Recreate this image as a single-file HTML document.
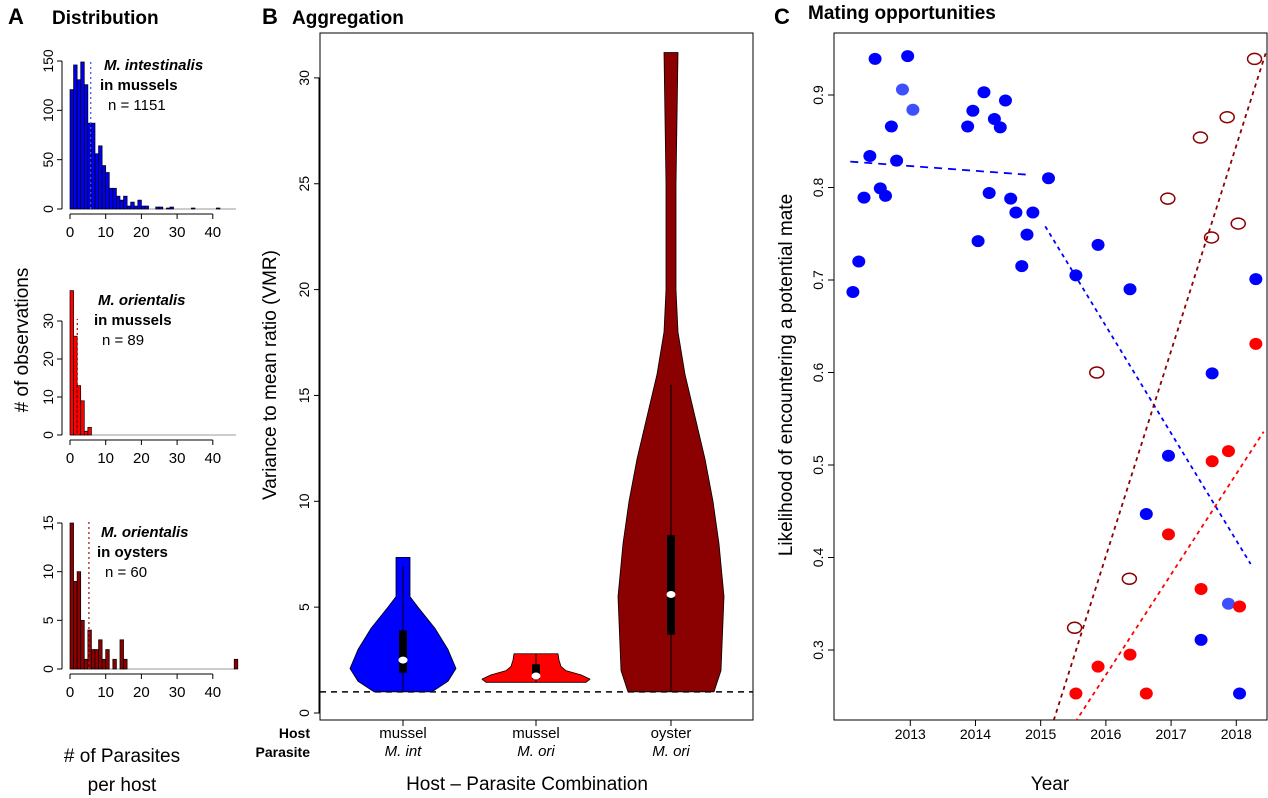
<!DOCTYPE html>
<html><head><meta charset="utf-8"><style>
html,body{margin:0;padding:0;background:#fff;width:1268px;height:798px;overflow:hidden}
svg{display:block;font-family:"Liberation Sans",Arial,sans-serif}
</style></head><body>
<svg id="fig" width="1268" height="798" viewBox="0 0 1268 798">
<text x="8" y="24" font-size="22" font-weight="bold">A</text>
<text x="52" y="24" font-size="19" font-weight="bold">Distribution</text>
<text x="262" y="24" font-size="22" font-weight="bold">B</text>
<text x="292" y="24" font-size="19" font-weight="bold">Aggregation</text>
<text x="774" y="24" font-size="22" font-weight="bold">C</text>
<text x="808" y="19" font-size="19" font-weight="bold">Mating opportunities</text>
<text transform="translate(28,340) rotate(-90)" text-anchor="middle" font-size="19"># of observations</text>
<text x="122" y="762" text-anchor="middle" font-size="19"># of Parasites</text>
<text x="122" y="791" text-anchor="middle" font-size="19">per host</text>
<text transform="translate(276,375) rotate(-90)" text-anchor="middle" font-size="19">Variance to mean ratio (VMR)</text>
<text x="527" y="790" text-anchor="middle" font-size="19">Host – Parasite Combination</text>
<text x="310" y="738" text-anchor="end" font-size="14" font-weight="bold">Host</text>
<text x="310" y="757" text-anchor="end" font-size="14" font-weight="bold">Parasite</text>
<text transform="translate(792,375) rotate(-90)" text-anchor="middle" font-size="19">Likelihood of encountering a potential mate</text>
<text x="1050" y="790" text-anchor="middle" font-size="19">Year</text>
<g id="ga"></g><g id="gb"></g><g id="gc"></g>
</svg>
<script>
// ---------- Panel A data ----------
const histA1 = [121,146,131,149,126,87,87,56,64,44,37,21,21,13,9,13,3,7,3,9,3,3,0,0,2,2,0,1,2,0,0,0,0,0,1,0,0,0,0,0,0,1];
const histA2 = [38,26,13,9,1,2];
const histA3 = [15,9,10,5,1,4,2,2,3,1,2,0,1,0,3,1,0,0,0,0,0,0,0,0,0,0,0,0,0,0,0,0,0,0,0,0,0,0,0,0,0,0,0,0,0,0,1];
const meansA = [5.8, 2.05, 5.3];
const yTicksA1 = [0,50,100,150];
const yTicksA2 = [0,10,20,30];
const yTicksA3 = [0,5,10,15];
const xTicksA = [0,10,20,30,40];
// ---------- Panel B data ----------
const violinNames = ["mussel","mussel","oyster"];
const violinParasites = ["M. int","M. ori","M. ori"];
const violinBlueV = [1,1.5,2.1,3,4,5,5.5,6,7.35];
const violinBlueW = [29,45,53,45,32,15,7,7,7];
const violinRedV = [1.45,1.6,1.8,2.0,2.2,2.5,2.8];
const violinRedW = [50,54,45,30,25,23,22];
const violinDarkV = [1,2,5.5,8,10,12,14,16,18,20,25,31.2];
const violinDarkW = [43,50,53,48,42,34,24,14,7,5,5,7];
const boxQ1 = [1.9,1.6,3.7];
const boxQ3 = [3.9,2.3,8.4];
const boxMed = [2.5,1.75,5.6];
const whiskLo = [1,1.45,1];
const whiskHi = [6.9,2.8,15.5];
const yTicksB = [0,5,10,15,20,25,30];
// ---------- Panel C data ----------
const blueYears = [2012.12,2012.21,2012.29,2012.38,2012.46,2012.54,2012.62,2012.71,2012.79,2012.96,2013.88,2013.96,2014.04,2014.13,2014.21,2014.29,2014.38,2014.46,2014.54,2014.62,2014.71,2014.79,2014.88,2015.12,2015.54,2015.88,2016.37,2016.62,2016.96,2017.46,2017.63,2018.05,2018.30];
const blueVals = [0.687,0.720,0.789,0.834,0.939,0.799,0.791,0.866,0.829,0.942,0.866,0.883,0.742,0.903,0.794,0.874,0.865,0.894,0.788,0.773,0.715,0.749,0.773,0.810,0.705,0.738,0.690,0.447,0.510,0.311,0.599,0.253,0.701];
const lightYears = [2012.88,2013.04,2017.88];
const lightVals = [0.906,0.884,0.350];
const redYears = [2015.54,2015.88,2016.37,2016.62,2016.96,2017.46,2017.63,2017.88,2018.05,2018.30];
const redVals = [0.253,0.282,0.295,0.253,0.425,0.366,0.504,0.515,0.347,0.631];
const openYears = [2015.52,2015.86,2016.36,2016.95,2017.45,2017.62,2017.86,2018.03,2018.28];
const openVals = [0.324,0.600,0.377,0.788,0.854,0.746,0.876,0.761,0.939];
const trendBlue1 = [[2012.08,0.828],[2014.77,0.814]];
const trendBlue2 = [[2015.07,0.758],[2018.22,0.393]];
const trendDark = [[2015.20,0.224],[2018.45,0.945]];
const trendRed = [[2015.53,0.222],[2018.42,0.536]];
const xTicksC = [2013,2014,2015,2016,2017,2018];
const yTicksC = [0.3,0.4,0.5,0.6,0.7,0.8,0.9];

const NS="http://www.w3.org/2000/svg";
function mk(parent,tag,attrs){const e=document.createElementNS(NS,tag);for(const k in attrs)e.setAttribute(k,attrs[k]);parent.appendChild(e);return e;}
function txt(parent,x,y,s,attrs){const e=mk(parent,'text',Object.assign({x:x,y:y,'font-size':14},attrs||{}));e.textContent=s;return e;}

// ---------- Panel A ----------
const ga=document.getElementById('ga');
const hists=[
 {d:histA1,ticks:yTicksA1,y0:209,ymax:150,ypx:148,fill:'#0000ee',line:'#4455ff',mean:meansA[0],l1:'M. intestinalis',l2:'in mussels',l3:'n = 1151',ly:100,tx:3},
 {d:histA2,ticks:yTicksA2,y0:435,ymax:30,ypx:114,fill:'#ff0000',line:'#ee0000',mean:meansA[1],l1:'M. orientalis',l2:'in mussels',l3:'n = 89',ly:335,tx:-3},
 {d:histA3,ticks:yTicksA3,y0:669,ymax:15,ypx:146,fill:'#8b0000',line:'#aa2222',mean:meansA[2],l1:'M. orientalis',l2:'in oysters',l3:'n = 60',ly:567,tx:0}
];
const ax0=70, axk=3.57;
const axA=v=>ax0+v*axk;
hists.forEach((h,hi)=>{
  const g=mk(ga,'g',{});
  
  
  const ay=v=>h.y0-v*h.ypx/h.ymax;
  mk(g,'line',{x1:axA(0),x2:axA(46.5),y1:h.y0,y2:h.y0,stroke:'#999','stroke-width':1});
  h.d.forEach((c,i)=>{ if(c<=0) return;
    const r=mk(g,'rect',{x:axA(i),y:ay(c),width:axk,height:h.y0-ay(c),fill:h.fill,stroke:'#000','stroke-width':0.7});
    
    
  });
  mk(g,'line',{x1:axA(h.mean),x2:axA(h.mean),y1:h.y0,y2:ay(h.ymax)-2,stroke:h.line,'stroke-width':1.3,'stroke-dasharray':'2,3'});
  const yx=62;
  mk(g,'line',{x1:yx,x2:yx,y1:ay(h.ticks[0]),y2:ay(h.ticks[h.ticks.length-1]),stroke:'#000'});
  h.ticks.forEach(t=>{mk(g,'line',{x1:yx-5,x2:yx,y1:ay(t),y2:ay(t),stroke:'#000'});
    const e=txt(g,0,0,String(t),{transform:`translate(${yx-9},${ay(t)}) rotate(-90)`,'text-anchor':'middle','font-size':14});
    
    });
  const xy=h.y0+5;
  mk(g,'line',{x1:axA(0),x2:axA(40),y1:xy,y2:xy,stroke:'#000'});
  xTicksA.forEach(t=>{mk(g,'line',{x1:axA(t),x2:axA(t),y1:xy,y2:xy+5,stroke:'#000'});
    const e=txt(g,axA(t),xy+23,String(t),{'text-anchor':'middle','font-size':15});
    
    });
  const lx=97+h.tx;
  txt(g,lx+4,h.ly-30,h.l1,{'font-size':15,'font-weight':'bold','font-style':'italic'});
  txt(g,lx,h.ly-10,h.l2,{'font-size':15,'font-weight':'bold'});
  txt(g,lx+8,h.ly+10,h.l3,{'font-size':15});
});

// ---------- Panel B ----------
const gb=document.getElementById('gb');
const bL=320,bR=753,bT=33,bB=720;
const byB=v=>713-v*21.17;
const centers=[403,536,671];
mk(gb,'rect',{x:bL,y:bT,width:bR-bL,height:bB-bT,fill:'none',stroke:'#000','stroke-width':1});
const profiles=[[violinBlueV,violinBlueW,'#0000ff'],[violinRedV,violinRedW,'#ff0000'],[violinDarkV,violinDarkW,'#8b0000']];
profiles.forEach((p,i)=>{
  const cx=centers[i],V=p[0],W=p[1];
  let d='M'+(cx-W[0])+','+byB(V[0]);
  for(let k=0;k<V.length;k++) d+=' L'+(cx-W[k])+','+byB(V[k]);
  for(let k=V.length-1;k>=0;k--) d+=' L'+(cx+W[k])+','+byB(V[k]);
  d+='Z';
  const path=mk(gb,'path',{d:d,fill:p[2],stroke:'#000','stroke-width':0.8,'stroke-linejoin':'round'});
  
  
  mk(gb,'line',{x1:cx,x2:cx,y1:byB(whiskLo[i]),y2:byB(whiskHi[i]),stroke:'#000','stroke-width':1});
  mk(gb,'rect',{x:cx-4,y:byB(boxQ3[i]),width:8,height:byB(boxQ1[i])-byB(boxQ3[i]),fill:'#000'});
  mk(gb,'ellipse',{cx:cx,cy:byB(boxMed[i]),rx:4.5,ry:3.5,fill:'#fff'});
  mk(gb,'line',{x1:cx,x2:cx,y1:bB,y2:bB+6,stroke:'#000'});
  let e=txt(gb,cx,738,violinNames[i],{'text-anchor':'middle','font-size':15});
  
  
  e=txt(gb,cx,756,violinParasites[i],{'text-anchor':'middle','font-size':15,'font-style':'italic'});
  
  
});
mk(gb,'line',{x1:bL,x2:bR,y1:byB(1),y2:byB(1),stroke:'#000','stroke-width':1.5,'stroke-dasharray':'6,5'});
mk(gb,'line',{x1:bL-1,x2:bL-1,y1:byB(0),y2:byB(30),stroke:'#000'});
yTicksB.forEach(t=>{mk(gb,'line',{x1:bL-6,x2:bL,y1:byB(t),y2:byB(t),stroke:'#000'});
  const e=txt(gb,0,0,String(t),{transform:`translate(${bL-11},${byB(t)}) rotate(-90)`,'text-anchor':'middle','font-size':14});
  
  });

// ---------- Panel C ----------
const gc=document.getElementById('gc');
const cL=834,cR=1267,cT=33,cB=720;
const cx=yr=>834+(yr-2011.83)*65.2;
const cy=v=>95+(0.9-v)*925;
mk(gc,'rect',{x:cL,y:cT,width:cR-cL,height:cB-cT,fill:'none',stroke:'#000','stroke-width':1});
const clip=mk(gc,'clipPath',{id:'cc'});mk(clip,'rect',{x:cL,y:cT,width:cR-cL,height:cB-cT});
const gcc=mk(gc,'g',{'clip-path':'url(#cc)'});
[[trendBlue1,'#0000ff','8,6'],[trendBlue2,'#0000ff','4,4'],[trendDark,'#8b0000','4,4'],[trendRed,'#ff0000','4,4']].forEach((t,i)=>{
  const l=mk(gcc,'line',{x1:cx(t[0][0][0]),y1:cy(t[0][0][1]),x2:cx(t[0][1][0]),y2:cy(t[0][1][1]),stroke:t[1],'stroke-width':1.8,'stroke-dasharray':t[2]});
  
  
});
function pts(ys,vs,fill,stroke,name){
  ys.forEach((y,i)=>{
    const c=mk(gcc,'ellipse',{cx:cx(y),cy:cy(vs[i]),rx:fill==='none'?7:6.5,ry:fill==='none'?5.5:6,fill:fill,stroke:stroke,'stroke-width':fill==='none'?1.5:0});
    
    
  });
}
pts(blueYears,blueVals,'#0000ff','none','mussel-point');
pts(lightYears,lightVals,'#3d50ff','none','mussel-light-point');
pts(redYears,redVals,'#ff0000','none','mussel-mori-point');
pts(openYears,openVals,'none','#8b0000','oyster-point');
xTicksC.forEach(t=>{mk(gc,'line',{x1:cx(t),x2:cx(t),y1:cB,y2:cB+6,stroke:'#000'});
  const e=txt(gc,cx(t),cB+19,String(t),{'text-anchor':'middle','font-size':14});
  
  });
yTicksC.forEach(t=>{mk(gc,'line',{x1:cL-6,x2:cL,y1:cy(t),y2:cy(t),stroke:'#000'});
  const e=txt(gc,0,0,t.toFixed(1),{transform:`translate(${cL-11},${cy(t)}) rotate(-90)`,'text-anchor':'middle','font-size':14});
  
  });
</script>
</body></html>
